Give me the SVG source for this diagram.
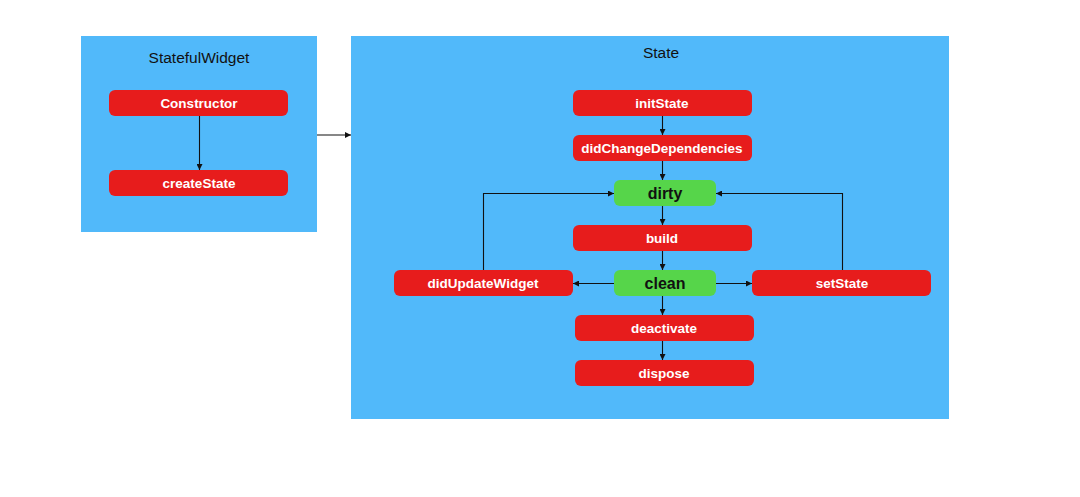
<svg xmlns="http://www.w3.org/2000/svg" width="1080" height="497" viewBox="0 0 1080 497">
<defs>
<style>
.panel{fill:#51B9FA}
.red{fill:#E71C1C}
.green{fill:#56D54A}
.title{font-family:"Liberation Sans",Arial,sans-serif;font-size:15.5px;fill:#111;text-anchor:middle}
.lbl{font-family:"Liberation Sans",Arial,sans-serif;font-size:13.5px;font-weight:bold;fill:#fff;text-anchor:middle}
.glbl{font-family:"Liberation Sans",Arial,sans-serif;font-size:16px;font-weight:bold;fill:#111;text-anchor:middle}
.conn{stroke:#111;stroke-width:1.1;fill:none;marker-end:url(#ah)}
</style>
<marker id="ah" viewBox="0 0 10 10" refX="10" refY="5" markerWidth="6" markerHeight="6" markerUnits="userSpaceOnUse" orient="auto">
<path d="M0,0 L10,5 L0,10 z" fill="#111"/>
</marker>
</defs>
<rect width="1080" height="497" fill="#fff"/>
<g id="statefulWidget">
<rect class="panel" x="81" y="36" width="236" height="196"/>
<text class="title" x="199" y="63">StatefulWidget</text>
</g>
<g id="state">
<rect class="panel" x="351" y="36" width="598" height="383"/>
<text class="title" x="661" y="58">State</text>
</g>
<g id="constructor"><rect class="red" x="109" y="90" width="179" height="26" rx="6"/><text class="lbl" x="199" y="108">Constructor</text></g>
<g id="createState"><rect class="red" x="109" y="170" width="179" height="26" rx="6"/><text class="lbl" x="199" y="188">createState</text></g>
<g id="initState"><rect class="red" x="573" y="90" width="179" height="26" rx="6"/><text class="lbl" x="662" y="108">initState</text></g>
<g id="didChangeDependencies"><rect class="red" x="573" y="135" width="179" height="26" rx="6"/><text class="lbl" x="662" y="153">didChangeDependencies</text></g>
<g id="dirty"><rect class="green" x="614" y="180" width="102" height="26" rx="6"/><text class="glbl" x="665" y="199">dirty</text></g>
<g id="build"><rect class="red" x="573" y="225" width="179" height="26" rx="6"/><text class="lbl" x="662" y="243">build</text></g>
<g id="clean"><rect class="green" x="614" y="270" width="102" height="26" rx="6"/><text class="glbl" x="665" y="289">clean</text></g>
<g id="didUpdateWidget"><rect class="red" x="394" y="270" width="179" height="26" rx="6"/><text class="lbl" x="483" y="288">didUpdateWidget</text></g>
<g id="setState"><rect class="red" x="752" y="270" width="179" height="26" rx="6"/><text class="lbl" x="842" y="288">setState</text></g>
<g id="deactivate"><rect class="red" x="575" y="315" width="179" height="26" rx="6"/><text class="lbl" x="664" y="333">deactivate</text></g>
<g id="dispose"><rect class="red" x="575" y="360" width="179" height="26" rx="6"/><text class="lbl" x="664" y="378">dispose</text></g>
<g id="connectors">
<path class="conn" d="M199.5,116 V170"/>
<path class="conn" d="M317,135 H351"/>
<path class="conn" d="M662.5,116 V135"/>
<path class="conn" d="M662.5,161 V180"/>
<path class="conn" d="M662.5,206 V225"/>
<path class="conn" d="M662.5,251 V270"/>
<path class="conn" d="M662.5,296 V315"/>
<path class="conn" d="M662.5,341 V360"/>
<path class="conn" d="M614,283.5 H573"/>
<path class="conn" d="M716,283.5 H752"/>
<path class="conn" d="M483.5,270 V193.5 H614"/>
<path class="conn" d="M842.5,270 V193.5 H716"/>
</g>
</svg>
